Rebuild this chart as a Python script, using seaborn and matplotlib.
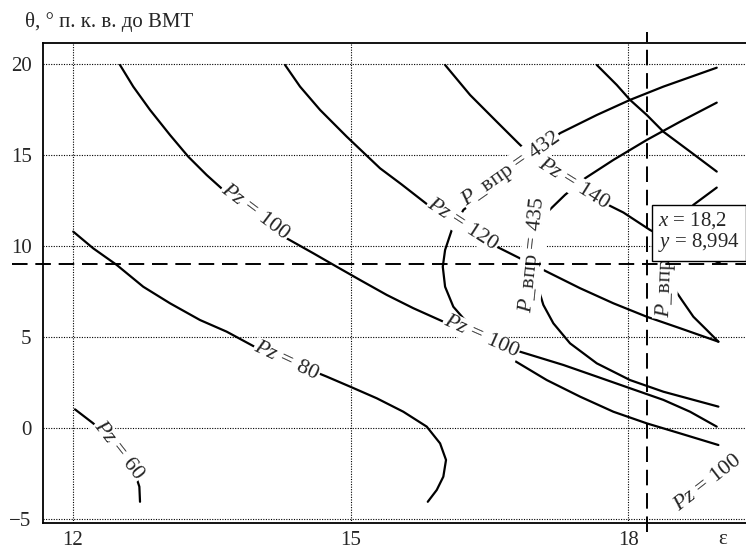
import matplotlib
matplotlib.use("Agg")
import matplotlib.pyplot as plt
import numpy as np
import pandas as pd
import seaborn as sns

# ---------------- data ----------------
x_ticks = [12, 15, 18]
y_ticks = [-5, 0, 5, 10, 15, 20]

pz60_x = [12.025, 12.222, 12.40, 12.56, 12.68, 12.72, 12.727]
pz60_y = [1.03, 0.26, -0.65, -1.70, -2.60, -3.22, -4.05]

pz80_x = [12.006, 12.222, 12.475, 12.762, 13.051, 13.375, 13.663, 13.950, 14.35, 14.743, 14.995,
          15.283, 15.570, 15.823, 15.967, 16.031, 16.002, 15.931, 15.834]
pz80_y = [10.80, 9.88, 8.97, 7.77, 6.86, 5.94, 5.30, 4.51, 3.65, 2.83, 2.28,
          1.64, 0.90, 0.08, -0.84, -1.75, -2.67, -3.40, -4.05]

pz100_x = [12.511, 12.654, 12.835, 13.051, 13.248, 13.447, 13.626, 13.97, 14.311, 14.598, 14.851,
           15.103, 15.391, 15.678, 16.002, 16.41, 16.830, 17.298, 17.659, 18.018, 18.378, 18.666, 18.954]
pz100_y = [19.96, 18.77, 17.49, 16.11, 14.92, 13.91, 13.09, 11.80, 10.43, 9.61, 8.87,
           8.14, 7.32, 6.59, 5.85, 5.00, 4.20, 3.47, 2.83, 2.19, 1.55, 0.90, 0.08]

pz120_x = [14.293, 14.455, 14.671, 14.959, 15.319, 15.55, 15.86, 16.21, 16.579, 16.83, 17.119,
           17.478, 17.838, 18.199, 18.558, 18.972]
pz120_y = [19.96, 18.77, 17.49, 16.02, 14.28, 13.40, 12.17, 11.17, 9.97, 9.33, 8.60,
           7.69, 6.86, 6.12, 5.49, 4.75]

pz140_x = [16.021, 16.291, 16.579, 16.812, 17.0, 17.38, 17.73, 17.946, 18.234, 18.60, 18.99]
pz140_y = [19.96, 18.31, 16.84, 15.66, 14.74, 13.46, 12.40, 11.85, 10.89, 9.95, 9.06]

pz160_x = [17.659, 17.875, 18.018, 18.199, 18.378, 18.666, 18.954]
pz160_y = [19.96, 18.86, 18.04, 17.21, 16.29, 15.20, 14.10]

pv432_x = [18.954, 18.378, 18.018, 17.659, 17.262, 16.74, 16.22, 16.093, 16.021, 15.996, 16.021,
           16.110, 16.218, 16.45, 16.758, 17.119, 17.478, 17.838, 18.199, 18.558, 18.972]
pv432_y = [19.81, 18.77, 18.04, 17.21, 16.21, 14.01, 12.0, 10.89, 9.79, 8.87, 7.77,
           6.67, 6.04, 4.90, 3.74, 2.64, 1.73, 0.90, 0.26, -0.29, -0.93]

pv435_x = [18.954, 18.558, 18.199, 17.838, 17.532, 17.316, 17.13, 17.03, 16.99, 17.02, 17.082,
           17.190, 17.370, 17.659, 18.018, 18.378, 18.972]
pv435_y = [17.89, 16.84, 15.84, 14.74, 13.73, 12.82, 11.90, 10.60, 9.20, 7.80, 6.77,
           5.76, 4.66, 3.56, 2.64, 2.00, 1.18]

pv3_x = [18.954, 18.702, 18.50, 18.42, 18.45, 18.577, 18.702, 18.847, 18.972]
pv3_y = [13.22, 12.27, 10.80, 9.30, 8.00, 7.04, 6.12, 5.39, 4.75]

curves = [
    ("Pz60", pz60_x, pz60_y),
    ("Pz80", pz80_x, pz80_y),
    ("Pz100", pz100_x, pz100_y),
    ("Pz120", pz120_x, pz120_y),
    ("Pz140", pz140_x, pz140_y),
    ("Pz160", pz160_x, pz160_y),
    ("Pv432", pv432_x, pv432_y),
    ("Pv435", pv435_x, pv435_y),
    ("Pv3", pv3_x, pv3_y),
]

# contour labels: text, x, y, rotation (drawn in this order)
label_texts = ["$Pz$ = 60", "$Pz$ = 80", "$Pz$ = 100", "$Pz$ = 100", "$Pz$ = 120",
               "$P$_впр = 432", "$Pz$ = 140", "$P$_впр = 435", "$P$_впр", "$Pz$ = 100"]
label_x = [12.50, 14.31, 13.97, 16.41, 16.21, 16.73, 17.41, 16.97, 18.40, 18.86]
label_y = [-1.22, 3.69, 11.86, 5.02, 11.17, 14.24, 13.40, 9.52, 7.69, -3.00]
label_rot = [-52, -25, -37, -24, -33, 35, -32, 84, 88, 38]

cursor_x = 18.2
cursor_y = 8.994
cursor_text = "$x$ = 18,2\n$y$ = 8,994"

# ---------------- style ----------------
sns.set_style("white")
plt.rcParams["font.family"] = ["Liberation Serif", "DejaVu Serif"]
plt.rcParams["mathtext.fontset"] = "custom"
plt.rcParams["mathtext.rm"] = "Liberation Serif"
plt.rcParams["mathtext.it"] = "Liberation Serif:italic"

fig = plt.figure(figsize=(7.46, 5.49), dpi=100)
ax = fig.add_axes([0.0572, 0.0479, 0.9428, 0.8732])

frames = []
for name, xs, ys in curves:
    frames.append(pd.DataFrame({"eps": xs, "theta": ys, "curve": name}))
df = pd.concat(frames, ignore_index=True)

sns.lineplot(data=df, x="eps", y="theta", units="curve", estimator=None, sort=False,
             color="black", lw=1.6, ax=ax, legend=False, zorder=3)

ax.set_xlim(11.676, 19.27)
ax.set_ylim(-5.2, 21.15)
ax.set_xticks(x_ticks)
ax.set_yticks(y_ticks)
ax.set_xticklabels([str(v) for v in x_ticks])
ax.set_yticklabels([str(v).replace("-", "\u2212") for v in y_ticks])
ax.tick_params(axis="both", length=0, labelsize=15)
ax.tick_params(axis="x", pad=6)
ax.tick_params(axis="y", pad=8)
ax.set_xlabel("")
ax.set_ylabel("")
ax.grid(True, color="black", lw=0.8, ls=(0, (1, 1.3)), zorder=1)
ax.set_axisbelow(True)
for s in ["top", "left", "bottom"]:
    ax.spines[s].set_color("black")
    ax.spines[s].set_linewidth(1.3)
ax.spines["right"].set_visible(False)

for i, (t, lx, ly, r) in enumerate(zip(label_texts, label_x, label_y, label_rot)):
    ax.text(lx, ly, t, rotation=r, rotation_mode="anchor", ha="center", va="center",
            fontsize=16, zorder=4 + 0.01 * i,
            bbox=dict(boxstyle="square,pad=0.04", fc="white", ec="none"))

# crosshair
ax.plot([11.345, 19.27], [cursor_y, cursor_y], color="black", lw=1.4, ls=(0, (8, 4)),
        clip_on=False, zorder=5)
ax.plot([cursor_x, cursor_x], [-5.7, 21.79], color="black", lw=1.4, ls=(0, (8, 4)),
        clip_on=False, zorder=5)

ax.text(18.32, 10.78, cursor_text, ha="left", va="center", fontsize=15, linespacing=1.05,
        zorder=6, clip_on=False,
        bbox=dict(boxstyle="square,pad=0.3", fc="white", ec="black", lw=1.0))

fig.text(25 / 746, 1 - 27.3 / 549, "θ, ° п. к. в. до ВМТ", ha="left", va="baseline", fontsize=15)
fig.text(723 / 746, 1 - 540 / 549, "ε", ha="center", va="center", fontsize=15)

fig.savefig("out.png", dpi=100)
